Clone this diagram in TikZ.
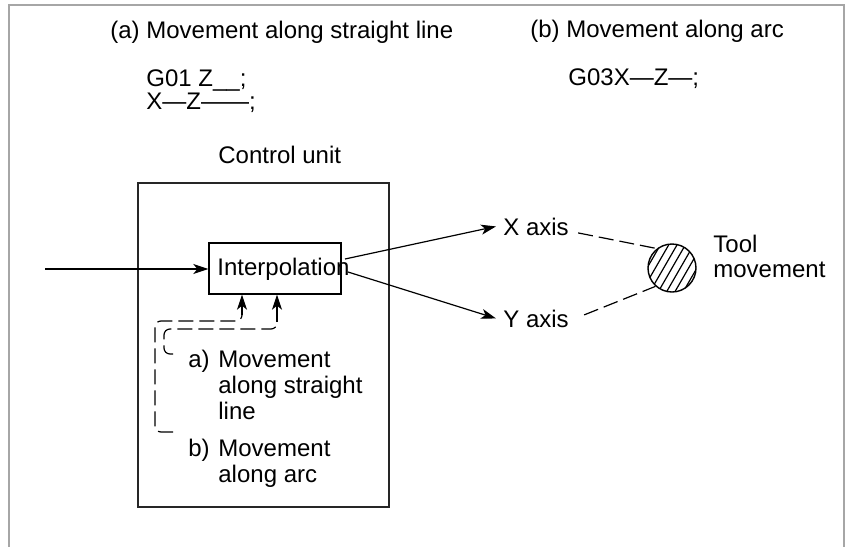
\documentclass[tikz,border=0pt]{standalone}
\usepackage{fontspec}
\setmainfont{Liberation Sans}
\usetikzlibrary{arrows.meta}
\begin{document}
\begin{tikzpicture}[x=0.5pt,y=-0.5pt,
  every node/.style={font=\fontsize{12}{14}\selectfont},
  txt/.style={inner sep=0pt, anchor=base west},
  boxst/.style={draw, line width=0.7pt, inner sep=0pt},
  arr/.style={line width=0.6pt, -{Stealth[length=7.5pt,width=5pt,inset=2pt]}},
  dsh/.style={line width=0.6pt, dash pattern=on 7.5pt off 3pt},
  fb/.style={line width=0.6pt, dash pattern=on 7.5pt off 3pt, rounded corners=3pt}
]
\useasboundingbox (0,0) rectangle (848,547);
\draw[gray!70, line width=1pt] (9,547) -- (9,5) -- (844,5) -- (844,547);

% titles and code
\node[txt] (ta) at (110,38) {(a) Movement along straight line};
\node[txt] (tb) at (530,37) {(b) Movement along arc};
\node[txt] (ga1) at (146,86) {G01 Z\_\_;};
\node[txt] (ga2) at (146,109) {X—Z——;};
\node[txt] (gb) at (568,85) {G03X—Z—;};

% control unit
\node[txt] (cutitle) at (218,163) {Control unit};
\node[boxst, draw=black!85, minimum width=125.5pt, minimum height=162pt] (cu) at (263.5,345) {};
\node[boxst, minimum width=66pt, minimum height=25.5pt] (ibox) at (275,268.5) {};
\node[txt] (itxt) at (217,275) {Interpolation};

% input arrow
\coordinate (inp) at (45,269);
\draw[arr] (inp) -- (ibox.west |- inp);

% axes
\node[txt] (xax) at (503,235) {X axis};
\node[txt] (yax) at (503,327) {Y axis};
\coordinate (ox) at (345,259);
\coordinate (oy) at (348,272);
\draw[arr] (ox) -- ([xshift=-3.5pt]xax.west);
\draw[arr] (oy) -- ([xshift=-3.5pt]yax.west);

% tool
\node[circle, draw, line width=0.7pt, minimum size=24pt, inner sep=0pt] (tool) at (672,268) {};
\begin{scope}
  \clip (tool.center) circle (12pt);
  \begin{scope}[shift={(tool.center)}, rotate=60]
    \foreach \k in {-4,...,4} {
      \draw[line width=0.6pt] (-20pt,\k*3.6pt) -- (20pt,\k*3.6pt);
    }
  \end{scope}
\end{scope}
\node[txt] (tool1) at (713,252) {Tool};
\node[txt] (tool2) at (713,277) {movement};
\draw[dsh] ([shift={(4.5pt,-3.25pt)}]xax.east) -- (tool.128);
\draw[dsh] ([shift={(7.5pt,1.75pt)}]yax.east) -- (tool.228);

% labels
\node[txt] (la) at (188,367) {a)};
\node[txt] (la1) at (218,367) {Movement};
\node[txt] (la2) at (218,393) {along straight};
\node[txt] (la3) at (218,419) {line};
\node[txt] (lb) at (188,456) {b)};
\node[txt] (lb1) at (218,456) {Movement};
\node[txt] (lb2) at (218,482) {along arc};

% feedback dashed lines
\coordinate (fbo) at (173,432);
\coordinate (fbi) at (173,354);
\coordinate (co) at (242,321);
\coordinate (ci) at (277,329);
\coordinate (eo) at (242,315);
\coordinate (ei) at (277,322);
\draw[fb] (fbo) -- (155,432) -- (155,321) -- (co) -- (eo);
\draw[fb] (fbi) -- (164,354) -- (164,329) -- (ci) -- (ei);
\draw[arr] (eo) -- (eo |- ibox.south);
\draw[arr] (ei) -- (ei |- ibox.south);
\end{tikzpicture}
\end{document}
